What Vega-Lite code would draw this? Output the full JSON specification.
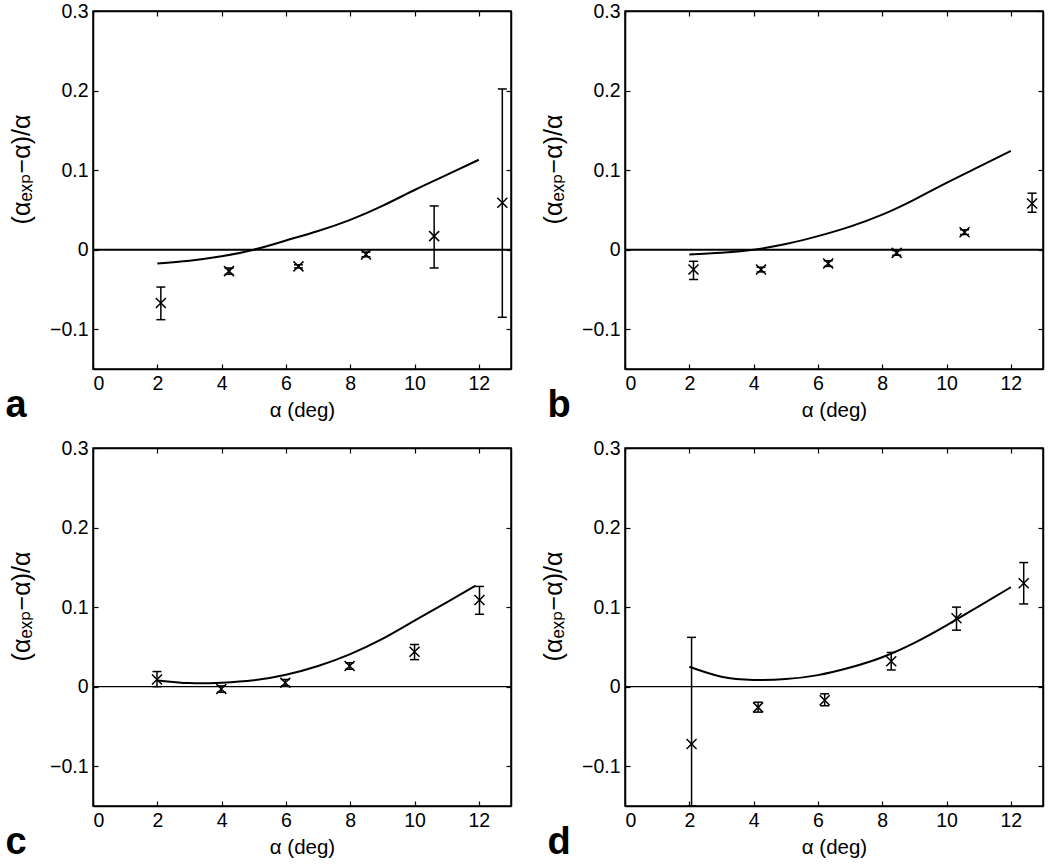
{
  "$schema": "https://vega.github.io/schema/vega-lite/v6.json",
  "padding": {"left": 4, "top": 0, "right": 0, "bottom": 0},
  "background": "white",
  "config": {
    "font": "Liberation Sans",
    "view": {"stroke": "black", "strokeWidth": 1.5},
    "axis": {"grid": false, "domainColor": "black", "domainWidth": 1.5, "tickColor": "black", "tickWidth": 1.2, "tickSize": -5,
      "labelFont": "Liberation Sans", "labelFontSize": 19.5, "labelColor": "black",
      "titleFont": "Liberation Sans, DejaVu Sans", "titleFontSize": 20.5, "titleFontWeight": "normal", "titleColor": "black"},
    "axisX": {"labelPadding": 10, "titlePadding": 8},
    "axisY": {"labelPadding": 10, "titlePadding": 15},
    "title": {"font": "Liberation Sans", "fontSize": 38, "fontWeight": "bold", "color": "black"}
  },
  "datasets": {
    "curve": [
      {"panel": "a", "x": 2, "y": -0.0175}, {"panel": "a", "x": 3, "y": -0.0138}, {"panel": "a", "x": 4, "y": -0.0083}, {"panel": "a", "x": 5, "y": 0.0}, {"panel": "a", "x": 6, "y": 0.0115}, {"panel": "a", "x": 7, "y": 0.0235}, {"panel": "a", "x": 8, "y": 0.0375}, {"panel": "a", "x": 9, "y": 0.055}, {"panel": "a", "x": 10, "y": 0.075}, {"panel": "a", "x": 11, "y": 0.094}, {"panel": "a", "x": 12, "y": 0.113},
      {"panel": "b", "x": 2, "y": -0.006}, {"panel": "b", "x": 3, "y": -0.004}, {"panel": "b", "x": 4, "y": 0.0}, {"panel": "b", "x": 5, "y": 0.007}, {"panel": "b", "x": 6, "y": 0.017}, {"panel": "b", "x": 7, "y": 0.029}, {"panel": "b", "x": 8, "y": 0.044}, {"panel": "b", "x": 9, "y": 0.063}, {"panel": "b", "x": 10, "y": 0.084}, {"panel": "b", "x": 11, "y": 0.104}, {"panel": "b", "x": 12, "y": 0.124},
      {"panel": "c", "x": 2, "y": 0.0079}, {"panel": "c", "x": 3, "y": 0.0045}, {"panel": "c", "x": 4, "y": 0.005}, {"panel": "c", "x": 5, "y": 0.008}, {"panel": "c", "x": 6, "y": 0.015}, {"panel": "c", "x": 7, "y": 0.026}, {"panel": "c", "x": 8, "y": 0.041}, {"panel": "c", "x": 9, "y": 0.06}, {"panel": "c", "x": 10, "y": 0.083}, {"panel": "c", "x": 11, "y": 0.106}, {"panel": "c", "x": 11.9, "y": 0.127},
      {"panel": "d", "x": 2, "y": 0.025}, {"panel": "d", "x": 3, "y": 0.0125}, {"panel": "d", "x": 4, "y": 0.0085}, {"panel": "d", "x": 5, "y": 0.0095}, {"panel": "d", "x": 6, "y": 0.0145}, {"panel": "d", "x": 7, "y": 0.024}, {"panel": "d", "x": 8, "y": 0.037}, {"panel": "d", "x": 9, "y": 0.055}, {"panel": "d", "x": 10, "y": 0.077}, {"panel": "d", "x": 11, "y": 0.101}, {"panel": "d", "x": 12, "y": 0.125}
    ],
    "pts": [
      {"panel": "a", "x": 2.11, "y": -0.067, "lo": -0.088, "hi": -0.047},
      {"panel": "a", "x": 4.23, "y": -0.027, "lo": -0.031, "hi": -0.023},
      {"panel": "a", "x": 6.39, "y": -0.021, "lo": -0.023, "hi": -0.019},
      {"panel": "a", "x": 8.49, "y": -0.006, "lo": -0.009, "hi": -0.003},
      {"panel": "a", "x": 10.61, "y": 0.017, "lo": -0.023, "hi": 0.055},
      {"panel": "a", "x": 12.73, "y": 0.059, "lo": -0.085, "hi": 0.202},
      {"panel": "b", "x": 2.13, "y": -0.025, "lo": -0.0375, "hi": -0.0146},
      {"panel": "b", "x": 4.23, "y": -0.025, "lo": -0.028, "hi": -0.022},
      {"panel": "b", "x": 6.32, "y": -0.0175, "lo": -0.021, "hi": -0.014},
      {"panel": "b", "x": 8.45, "y": -0.004, "lo": -0.007, "hi": -0.001},
      {"panel": "b", "x": 10.56, "y": 0.022, "lo": 0.019, "hi": 0.025},
      {"panel": "b", "x": 12.66, "y": 0.058, "lo": 0.047, "hi": 0.071},
      {"panel": "c", "x": 1.99, "y": 0.009, "lo": 0.0, "hi": 0.019},
      {"panel": "c", "x": 3.99, "y": -0.003, "lo": -0.007, "hi": 0.001},
      {"panel": "c", "x": 5.98, "y": 0.005, "lo": 0.001, "hi": 0.009},
      {"panel": "c", "x": 7.98, "y": 0.026, "lo": 0.022, "hi": 0.03},
      {"panel": "c", "x": 10.0, "y": 0.044, "lo": 0.034, "hi": 0.053},
      {"panel": "c", "x": 12.02, "y": 0.109, "lo": 0.091, "hi": 0.126},
      {"panel": "d", "x": 2.07, "y": -0.072, "lo": -0.15, "hi": 0.062},
      {"panel": "d", "x": 4.14, "y": -0.026, "lo": -0.032, "hi": -0.0195},
      {"panel": "d", "x": 6.21, "y": -0.017, "lo": -0.024, "hi": -0.009},
      {"panel": "d", "x": 8.28, "y": 0.032, "lo": 0.021, "hi": 0.043},
      {"panel": "d", "x": 10.31, "y": 0.086, "lo": 0.071, "hi": 0.1},
      {"panel": "d", "x": 12.4, "y": 0.13, "lo": 0.104, "hi": 0.156}
    ]
  },
  "columns": 2,
  "spacing": {"row": 11, "column": 27},
  "concat": [
    {
      "width": 418, "height": 358,
      "title": {"text": "a", "orient": "bottom", "anchor": "start", "frame": "bounds", "baseline": "alphabetic", "offset": -4, "dx": -4},
      "resolve": {"axis": {"x": "independent", "y": "independent"}},
      "layer": [
        {"data": {"name": "curve"}, "transform": [{"filter": "datum.panel === 'a'"}],
          "mark": {"type": "line", "color": "black", "strokeWidth": 2, "interpolate": "natural"},
          "encoding": {
            "x": {"field": "x", "type": "quantitative", "scale": {"domain": [0, 13], "nice": false, "zero": false}, "axis": {"orient": "bottom", "values": [0, 2, 4, 6, 8, 10, 12], "title": "α (deg)"}},
            "y": {"field": "y", "type": "quantitative", "scale": {"domain": [-0.15, 0.3], "nice": false, "zero": false}, "axis": {"orient": "left", "values": [-0.1, 0, 0.1, 0.2, 0.3], "format": "~g", "title": "(αₑₓₚ−α)/α", "titleFontSize": 25, "titleY": 158}}}},
        {"data": {"values": [{}]},
          "mark": {"type": "rule", "color": "black", "strokeWidth": 2},
          "encoding": {
            "x": {"datum": 0, "type": "quantitative", "axis": {"orient": "top", "values": [0, 2, 4, 6, 8, 10, 12], "labels": false, "title": null}},
            "x2": {"datum": 13},
            "y": {"datum": 0, "type": "quantitative", "axis": {"orient": "right", "values": [-0.1, 0, 0.1, 0.2, 0.3], "labels": false, "title": null}}}},
        {"data": {"name": "pts"}, "transform": [{"filter": "datum.panel === 'a'"}],
          "mark": {"type": "rule", "color": "black", "strokeWidth": 1.5},
          "encoding": {"x": {"field": "x", "type": "quantitative", "axis": null}, "y": {"field": "lo", "type": "quantitative", "axis": null}, "y2": {"field": "hi"}}},
        {"data": {"name": "pts"}, "transform": [{"filter": "datum.panel === 'a'"}],
          "mark": {"type": "tick", "orient": "horizontal", "size": 9, "thickness": 1.5, "color": "black", "opacity": 1},
          "encoding": {"x": {"field": "x", "type": "quantitative", "axis": null}, "y": {"field": "lo", "type": "quantitative", "axis": null}}},
        {"data": {"name": "pts"}, "transform": [{"filter": "datum.panel === 'a'"}],
          "mark": {"type": "tick", "orient": "horizontal", "size": 9, "thickness": 1.5, "color": "black", "opacity": 1},
          "encoding": {"x": {"field": "x", "type": "quantitative", "axis": null}, "y": {"field": "hi", "type": "quantitative", "axis": null}}},
        {"data": {"name": "pts"}, "transform": [{"filter": "datum.panel === 'a'"}],
          "mark": {"type": "point", "shape": "M-1,-1L1,1M-1,1L1,-1", "size": 100, "filled": false, "strokeWidth": 1.5, "color": "black", "opacity": 1},
          "encoding": {"x": {"field": "x", "type": "quantitative", "axis": null}, "y": {"field": "y", "type": "quantitative", "axis": null}}}
      ]
    },
    {
      "width": 418, "height": 358,
      "title": {"text": "b", "orient": "bottom", "anchor": "start", "frame": "bounds", "baseline": "alphabetic", "offset": -4, "dx": 6},
      "resolve": {"axis": {"x": "independent", "y": "independent"}},
      "layer": [
        {"data": {"name": "curve"}, "transform": [{"filter": "datum.panel === 'b'"}],
          "mark": {"type": "line", "color": "black", "strokeWidth": 2, "interpolate": "natural"},
          "encoding": {
            "x": {"field": "x", "type": "quantitative", "scale": {"domain": [0, 13], "nice": false, "zero": false}, "axis": {"orient": "bottom", "values": [0, 2, 4, 6, 8, 10, 12], "title": "α (deg)"}},
            "y": {"field": "y", "type": "quantitative", "scale": {"domain": [-0.15, 0.3], "nice": false, "zero": false}, "axis": {"orient": "left", "values": [-0.1, 0, 0.1, 0.2, 0.3], "format": "~g", "title": "(αₑₓₚ−α)/α", "titleFontSize": 25, "titleY": 158}}}},
        {"data": {"values": [{}]},
          "mark": {"type": "rule", "color": "black", "strokeWidth": 2},
          "encoding": {
            "x": {"datum": 0, "type": "quantitative", "axis": {"orient": "top", "values": [0, 2, 4, 6, 8, 10, 12], "labels": false, "title": null}},
            "x2": {"datum": 13},
            "y": {"datum": 0, "type": "quantitative", "axis": {"orient": "right", "values": [-0.1, 0, 0.1, 0.2, 0.3], "labels": false, "title": null}}}},
        {"data": {"name": "pts"}, "transform": [{"filter": "datum.panel === 'b'"}],
          "mark": {"type": "rule", "color": "black", "strokeWidth": 1.5},
          "encoding": {"x": {"field": "x", "type": "quantitative", "axis": null}, "y": {"field": "lo", "type": "quantitative", "axis": null}, "y2": {"field": "hi"}}},
        {"data": {"name": "pts"}, "transform": [{"filter": "datum.panel === 'b'"}],
          "mark": {"type": "tick", "orient": "horizontal", "size": 9, "thickness": 1.5, "color": "black", "opacity": 1},
          "encoding": {"x": {"field": "x", "type": "quantitative", "axis": null}, "y": {"field": "lo", "type": "quantitative", "axis": null}}},
        {"data": {"name": "pts"}, "transform": [{"filter": "datum.panel === 'b'"}],
          "mark": {"type": "tick", "orient": "horizontal", "size": 9, "thickness": 1.5, "color": "black", "opacity": 1},
          "encoding": {"x": {"field": "x", "type": "quantitative", "axis": null}, "y": {"field": "hi", "type": "quantitative", "axis": null}}},
        {"data": {"name": "pts"}, "transform": [{"filter": "datum.panel === 'b'"}],
          "mark": {"type": "point", "shape": "M-1,-1L1,1M-1,1L1,-1", "size": 100, "filled": false, "strokeWidth": 1.5, "color": "black", "opacity": 1},
          "encoding": {"x": {"field": "x", "type": "quantitative", "axis": null}, "y": {"field": "y", "type": "quantitative", "axis": null}}}
      ]
    },
    {
      "width": 418, "height": 358,
      "title": {"text": "c", "orient": "bottom", "anchor": "start", "frame": "bounds", "baseline": "alphabetic", "offset": -4, "dx": -4},
      "resolve": {"axis": {"x": "independent", "y": "independent"}},
      "layer": [
        {"data": {"name": "curve"}, "transform": [{"filter": "datum.panel === 'c'"}],
          "mark": {"type": "line", "color": "black", "strokeWidth": 2, "interpolate": "natural"},
          "encoding": {
            "x": {"field": "x", "type": "quantitative", "scale": {"domain": [0, 13], "nice": false, "zero": false}, "axis": {"orient": "bottom", "values": [0, 2, 4, 6, 8, 10, 12], "title": "α (deg)"}},
            "y": {"field": "y", "type": "quantitative", "scale": {"domain": [-0.15, 0.3], "nice": false, "zero": false}, "axis": {"orient": "left", "values": [-0.1, 0, 0.1, 0.2, 0.3], "format": "~g", "title": "(αₑₓₚ−α)/α", "titleFontSize": 25, "titleY": 158}}}},
        {"data": {"values": [{}]},
          "mark": {"type": "rule", "color": "black", "strokeWidth": 1.2},
          "encoding": {
            "x": {"datum": 0, "type": "quantitative", "axis": {"orient": "top", "values": [0, 2, 4, 6, 8, 10, 12], "labels": false, "title": null}},
            "x2": {"datum": 13},
            "y": {"datum": 0, "type": "quantitative", "axis": {"orient": "right", "values": [-0.1, 0, 0.1, 0.2, 0.3], "labels": false, "title": null}}}},
        {"data": {"name": "pts"}, "transform": [{"filter": "datum.panel === 'c'"}],
          "mark": {"type": "rule", "color": "black", "strokeWidth": 1.5},
          "encoding": {"x": {"field": "x", "type": "quantitative", "axis": null}, "y": {"field": "lo", "type": "quantitative", "axis": null}, "y2": {"field": "hi"}}},
        {"data": {"name": "pts"}, "transform": [{"filter": "datum.panel === 'c'"}],
          "mark": {"type": "tick", "orient": "horizontal", "size": 9, "thickness": 1.5, "color": "black", "opacity": 1},
          "encoding": {"x": {"field": "x", "type": "quantitative", "axis": null}, "y": {"field": "lo", "type": "quantitative", "axis": null}}},
        {"data": {"name": "pts"}, "transform": [{"filter": "datum.panel === 'c'"}],
          "mark": {"type": "tick", "orient": "horizontal", "size": 9, "thickness": 1.5, "color": "black", "opacity": 1},
          "encoding": {"x": {"field": "x", "type": "quantitative", "axis": null}, "y": {"field": "hi", "type": "quantitative", "axis": null}}},
        {"data": {"name": "pts"}, "transform": [{"filter": "datum.panel === 'c'"}],
          "mark": {"type": "point", "shape": "M-1,-1L1,1M-1,1L1,-1", "size": 100, "filled": false, "strokeWidth": 1.5, "color": "black", "opacity": 1},
          "encoding": {"x": {"field": "x", "type": "quantitative", "axis": null}, "y": {"field": "y", "type": "quantitative", "axis": null}}}
      ]
    },
    {
      "width": 418, "height": 358,
      "title": {"text": "d", "orient": "bottom", "anchor": "start", "frame": "bounds", "baseline": "alphabetic", "offset": -4, "dx": 6},
      "resolve": {"axis": {"x": "independent", "y": "independent"}},
      "layer": [
        {"data": {"name": "curve"}, "transform": [{"filter": "datum.panel === 'd'"}],
          "mark": {"type": "line", "color": "black", "strokeWidth": 2, "interpolate": "natural"},
          "encoding": {
            "x": {"field": "x", "type": "quantitative", "scale": {"domain": [0, 13], "nice": false, "zero": false}, "axis": {"orient": "bottom", "values": [0, 2, 4, 6, 8, 10, 12], "title": "α (deg)"}},
            "y": {"field": "y", "type": "quantitative", "scale": {"domain": [-0.15, 0.3], "nice": false, "zero": false}, "axis": {"orient": "left", "values": [-0.1, 0, 0.1, 0.2, 0.3], "format": "~g", "title": "(αₑₓₚ−α)/α", "titleFontSize": 25, "titleY": 158}}}},
        {"data": {"values": [{}]},
          "mark": {"type": "rule", "color": "black", "strokeWidth": 1.2},
          "encoding": {
            "x": {"datum": 0, "type": "quantitative", "axis": {"orient": "top", "values": [0, 2, 4, 6, 8, 10, 12], "labels": false, "title": null}},
            "x2": {"datum": 13},
            "y": {"datum": 0, "type": "quantitative", "axis": {"orient": "right", "values": [-0.1, 0, 0.1, 0.2, 0.3], "labels": false, "title": null}}}},
        {"data": {"name": "pts"}, "transform": [{"filter": "datum.panel === 'd'"}],
          "mark": {"type": "rule", "color": "black", "strokeWidth": 1.5},
          "encoding": {"x": {"field": "x", "type": "quantitative", "axis": null}, "y": {"field": "lo", "type": "quantitative", "axis": null}, "y2": {"field": "hi"}}},
        {"data": {"name": "pts"}, "transform": [{"filter": "datum.panel === 'd'"}],
          "mark": {"type": "tick", "orient": "horizontal", "size": 9, "thickness": 1.5, "color": "black", "opacity": 1},
          "encoding": {"x": {"field": "x", "type": "quantitative", "axis": null}, "y": {"field": "lo", "type": "quantitative", "axis": null}}},
        {"data": {"name": "pts"}, "transform": [{"filter": "datum.panel === 'd'"}],
          "mark": {"type": "tick", "orient": "horizontal", "size": 9, "thickness": 1.5, "color": "black", "opacity": 1},
          "encoding": {"x": {"field": "x", "type": "quantitative", "axis": null}, "y": {"field": "hi", "type": "quantitative", "axis": null}}},
        {"data": {"name": "pts"}, "transform": [{"filter": "datum.panel === 'd'"}],
          "mark": {"type": "point", "shape": "M-1,-1L1,1M-1,1L1,-1", "size": 100, "filled": false, "strokeWidth": 1.5, "color": "black", "opacity": 1},
          "encoding": {"x": {"field": "x", "type": "quantitative", "axis": null}, "y": {"field": "y", "type": "quantitative", "axis": null}}}
      ]
    }
  ]
}
